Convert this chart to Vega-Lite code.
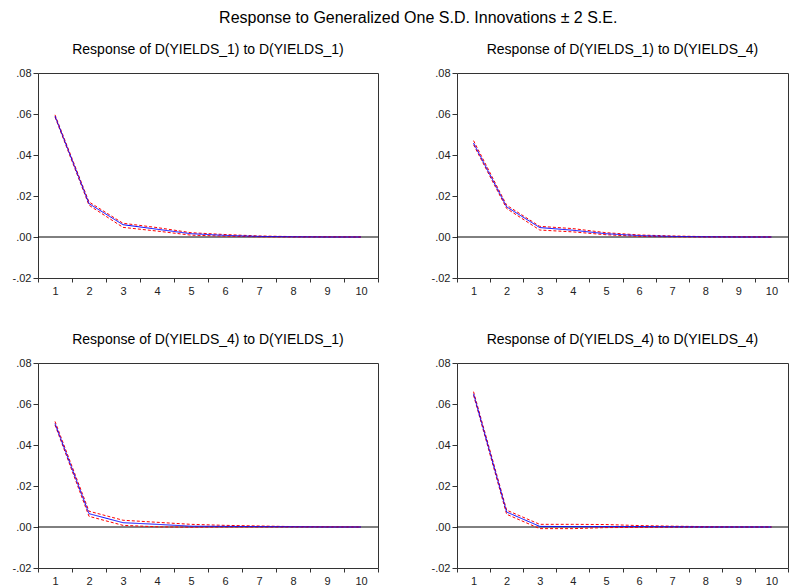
{
  "$schema": "https://vega.github.io/schema/vega-lite/v6.json",
  "background": "white",
  "padding": {"left": 11, "top": 9, "right": 0, "bottom": 0},
  "title": {"text": "Response to Generalized One S.D. Innovations ± 2 S.E.", "font": "Liberation Sans", "fontSize": 16, "fontWeight": "normal", "anchor": "middle", "color": "black", "offset": 17, "dx": 18},
  "config": {
    "font": "Liberation Sans",
    "view": {"stroke": "#333", "strokeWidth": 1},
    "axis": {"labelFont": "Liberation Sans", "labelFontSize": 11, "labelColor": "#222", "domain": false, "grid": false, "tickColor": "#333", "title": null},
    "title": {"font": "Liberation Sans", "fontSize": 14, "fontWeight": "normal", "color": "black", "anchor": "middle", "offset": 10}
  },
  "datasets": {
    "irf": [
      {"p": "P1", "t": 1, "r": 0.0590, "lo": 0.0585, "hi": 0.0596},
      {"p": "P1", "t": 2, "r": 0.0163, "lo": 0.0155, "hi": 0.0171},
      {"p": "P1", "t": 3, "r": 0.0060, "lo": 0.0047, "hi": 0.0067},
      {"p": "P1", "t": 4, "r": 0.0038, "lo": 0.0029, "hi": 0.0046},
      {"p": "P1", "t": 5, "r": 0.0016, "lo": 0.0009, "hi": 0.0021},
      {"p": "P1", "t": 6, "r": 0.0008, "lo": 0.0004, "hi": 0.0012},
      {"p": "P1", "t": 7, "r": 0.0003, "lo": 0.0001, "hi": 0.0005},
      {"p": "P1", "t": 8, "r": 0.0001, "lo": 0.0000, "hi": 0.0002},
      {"p": "P1", "t": 9, "r": 0.0000, "lo": 0.0000, "hi": 0.0001},
      {"p": "P1", "t": 10, "r": 0.0000, "lo": 0.0000, "hi": 0.0000},
      {"p": "P2", "t": 1, "r": 0.0458, "lo": 0.0450, "hi": 0.0470},
      {"p": "P2", "t": 2, "r": 0.0147, "lo": 0.0139, "hi": 0.0155},
      {"p": "P2", "t": 3, "r": 0.0046, "lo": 0.0034, "hi": 0.0052},
      {"p": "P2", "t": 4, "r": 0.0033, "lo": 0.0025, "hi": 0.0041},
      {"p": "P2", "t": 5, "r": 0.0016, "lo": 0.0011, "hi": 0.0021},
      {"p": "P2", "t": 6, "r": 0.0007, "lo": 0.0003, "hi": 0.0010},
      {"p": "P2", "t": 7, "r": 0.0003, "lo": 0.0001, "hi": 0.0005},
      {"p": "P2", "t": 8, "r": 0.0001, "lo": 0.0000, "hi": 0.0002},
      {"p": "P2", "t": 9, "r": 0.0000, "lo": 0.0000, "hi": 0.0001},
      {"p": "P2", "t": 10, "r": 0.0000, "lo": 0.0000, "hi": 0.0000},
      {"p": "P3", "t": 1, "r": 0.0505, "lo": 0.0498, "hi": 0.0515},
      {"p": "P3", "t": 2, "r": 0.0065, "lo": 0.0052, "hi": 0.0077},
      {"p": "P3", "t": 3, "r": 0.0021, "lo": 0.0008, "hi": 0.0033},
      {"p": "P3", "t": 4, "r": 0.0013, "lo": 0.0001, "hi": 0.0023},
      {"p": "P3", "t": 5, "r": 0.0004, "lo": -0.0001, "hi": 0.0013},
      {"p": "P3", "t": 6, "r": 0.0003, "lo": 0.0000, "hi": 0.0008},
      {"p": "P3", "t": 7, "r": 0.0002, "lo": 0.0000, "hi": 0.0005},
      {"p": "P3", "t": 8, "r": 0.0001, "lo": 0.0000, "hi": 0.0002},
      {"p": "P3", "t": 9, "r": 0.0000, "lo": 0.0000, "hi": 0.0001},
      {"p": "P3", "t": 10, "r": 0.0000, "lo": 0.0000, "hi": 0.0000},
      {"p": "P4", "t": 1, "r": 0.0650, "lo": 0.0643, "hi": 0.0660},
      {"p": "P4", "t": 2, "r": 0.0073, "lo": 0.0062, "hi": 0.0082},
      {"p": "P4", "t": 3, "r": 0.0003, "lo": -0.0008, "hi": 0.0013},
      {"p": "P4", "t": 4, "r": 0.0002, "lo": -0.0008, "hi": 0.0013},
      {"p": "P4", "t": 5, "r": 0.0002, "lo": -0.0003, "hi": 0.0012},
      {"p": "P4", "t": 6, "r": 0.0002, "lo": -0.0002, "hi": 0.0007},
      {"p": "P4", "t": 7, "r": 0.0001, "lo": -0.0001, "hi": 0.0004},
      {"p": "P4", "t": 8, "r": 0.0000, "lo": -0.0001, "hi": 0.0002},
      {"p": "P4", "t": 9, "r": 0.0000, "lo": 0.0000, "hi": 0.0000},
      {"p": "P4", "t": 10, "r": 0.0000, "lo": 0.0000, "hi": 0.0000}
    ]
  },
  "columns": 2,
  "spacing": {"row": 35, "column": 51},
  "concat": [
    {
      "width": 340, "height": 205,
      "title": {"text": "Response of D(YIELDS_1) to D(YIELDS_1)"},
      "data": {"name": "irf"},
      "transform": [{"filter": "datum.p == 'P1'"}, {"fold": ["lo", "hi", "r"], "as": ["s", "v"]}],
      "layer": [
        {"data": {"values": [{"z": 0}]}, "mark": {"type": "rule", "color": "black", "strokeWidth": 1}, "encoding": {"y": {"field": "z", "type": "quantitative"}}},
        {"mark": {"type": "line", "strokeWidth": 1}, "encoding": {
          "x": {"field": "t", "type": "ordinal", "scale": {"type": "band", "paddingInner": 0, "paddingOuter": 0}, "axis": {"labelAngle": 0, "tickBand": "extent", "tickSize": 4, "labelPadding": 3}},
          "y": {"field": "v", "type": "quantitative", "scale": {"domain": [-0.02, 0.08], "nice": false, "zero": false}, "axis": {"values": [-0.02, 0, 0.02, 0.04, 0.06, 0.08], "labelExpr": "(datum.value < 0 ? '-' : '') + replace(format(abs(datum.value), '.2f'), '0.', '.')", "tickSize": 5, "labelPadding": 2}},
          "color": {"field": "s", "type": "nominal", "scale": {"domain": ["lo", "hi", "r"], "range": ["#ff0000", "#ff0000", "#0000ff"]}, "legend": null},
          "strokeDash": {"field": "s", "type": "nominal", "scale": {"domain": ["lo", "hi", "r"], "range": [[3, 2], [3, 2], [1, 0]]}, "legend": null}
        }}
      ]
    },
    {
      "width": 331, "height": 205,
      "title": {"text": "Response of D(YIELDS_1) to D(YIELDS_4)"},
      "data": {"name": "irf"},
      "transform": [{"filter": "datum.p == 'P2'"}, {"fold": ["lo", "hi", "r"], "as": ["s", "v"]}],
      "layer": [
        {"data": {"values": [{"z": 0}]}, "mark": {"type": "rule", "color": "black", "strokeWidth": 1}, "encoding": {"y": {"field": "z", "type": "quantitative"}}},
        {"mark": {"type": "line", "strokeWidth": 1}, "encoding": {
          "x": {"field": "t", "type": "ordinal", "scale": {"type": "band", "paddingInner": 0, "paddingOuter": 0}, "axis": {"labelAngle": 0, "tickBand": "extent", "tickSize": 4, "labelPadding": 3}},
          "y": {"field": "v", "type": "quantitative", "scale": {"domain": [-0.02, 0.08], "nice": false, "zero": false}, "axis": {"values": [-0.02, 0, 0.02, 0.04, 0.06, 0.08], "labelExpr": "(datum.value < 0 ? '-' : '') + replace(format(abs(datum.value), '.2f'), '0.', '.')", "tickSize": 5, "labelPadding": 2}},
          "color": {"field": "s", "type": "nominal", "scale": {"domain": ["lo", "hi", "r"], "range": ["#ff0000", "#ff0000", "#0000ff"]}, "legend": null},
          "strokeDash": {"field": "s", "type": "nominal", "scale": {"domain": ["lo", "hi", "r"], "range": [[3, 2], [3, 2], [1, 0]]}, "legend": null}
        }}
      ]
    },
    {
      "width": 340, "height": 205,
      "title": {"text": "Response of D(YIELDS_4) to D(YIELDS_1)"},
      "data": {"name": "irf"},
      "transform": [{"filter": "datum.p == 'P3'"}, {"fold": ["lo", "hi", "r"], "as": ["s", "v"]}],
      "layer": [
        {"data": {"values": [{"z": 0}]}, "mark": {"type": "rule", "color": "black", "strokeWidth": 1}, "encoding": {"y": {"field": "z", "type": "quantitative"}}},
        {"mark": {"type": "line", "strokeWidth": 1}, "encoding": {
          "x": {"field": "t", "type": "ordinal", "scale": {"type": "band", "paddingInner": 0, "paddingOuter": 0}, "axis": {"labelAngle": 0, "tickBand": "extent", "tickSize": 4, "labelPadding": 3}},
          "y": {"field": "v", "type": "quantitative", "scale": {"domain": [-0.02, 0.08], "nice": false, "zero": false}, "axis": {"values": [-0.02, 0, 0.02, 0.04, 0.06, 0.08], "labelExpr": "(datum.value < 0 ? '-' : '') + replace(format(abs(datum.value), '.2f'), '0.', '.')", "tickSize": 5, "labelPadding": 2}},
          "color": {"field": "s", "type": "nominal", "scale": {"domain": ["lo", "hi", "r"], "range": ["#ff0000", "#ff0000", "#0000ff"]}, "legend": null},
          "strokeDash": {"field": "s", "type": "nominal", "scale": {"domain": ["lo", "hi", "r"], "range": [[3, 2], [3, 2], [1, 0]]}, "legend": null}
        }}
      ]
    },
    {
      "width": 331, "height": 205,
      "title": {"text": "Response of D(YIELDS_4) to D(YIELDS_4)"},
      "data": {"name": "irf"},
      "transform": [{"filter": "datum.p == 'P4'"}, {"fold": ["lo", "hi", "r"], "as": ["s", "v"]}],
      "layer": [
        {"data": {"values": [{"z": 0}]}, "mark": {"type": "rule", "color": "black", "strokeWidth": 1}, "encoding": {"y": {"field": "z", "type": "quantitative"}}},
        {"mark": {"type": "line", "strokeWidth": 1}, "encoding": {
          "x": {"field": "t", "type": "ordinal", "scale": {"type": "band", "paddingInner": 0, "paddingOuter": 0}, "axis": {"labelAngle": 0, "tickBand": "extent", "tickSize": 4, "labelPadding": 3}},
          "y": {"field": "v", "type": "quantitative", "scale": {"domain": [-0.02, 0.08], "nice": false, "zero": false}, "axis": {"values": [-0.02, 0, 0.02, 0.04, 0.06, 0.08], "labelExpr": "(datum.value < 0 ? '-' : '') + replace(format(abs(datum.value), '.2f'), '0.', '.')", "tickSize": 5, "labelPadding": 2}},
          "color": {"field": "s", "type": "nominal", "scale": {"domain": ["lo", "hi", "r"], "range": ["#ff0000", "#ff0000", "#0000ff"]}, "legend": null},
          "strokeDash": {"field": "s", "type": "nominal", "scale": {"domain": ["lo", "hi", "r"], "range": [[3, 2], [3, 2], [1, 0]]}, "legend": null}
        }}
      ]
    }
  ]
}
